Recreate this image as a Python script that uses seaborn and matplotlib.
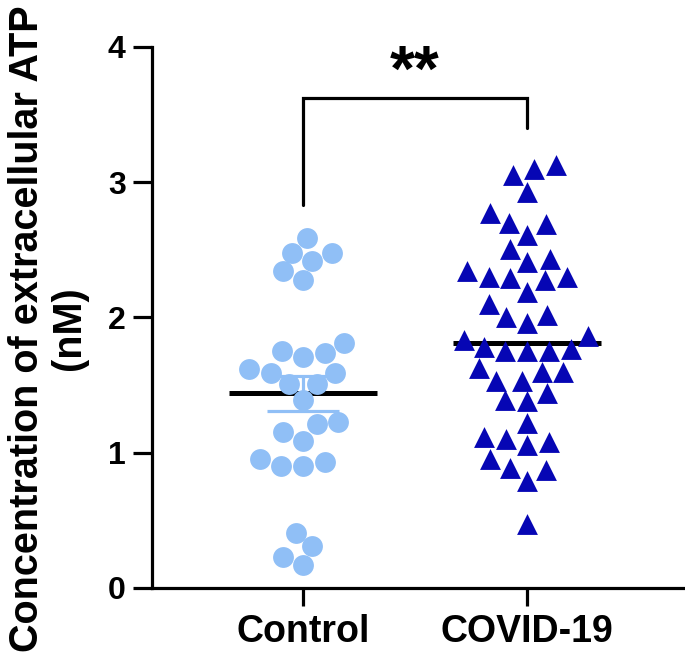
import numpy as np
import pandas as pd
import matplotlib
matplotlib.use('Agg')
import matplotlib.pyplot as plt
import seaborn as sns

# values
groups = ['Control', 'COVID-19']
control_atp = [2.59, 2.48, 2.48, 2.34, 2.42, 2.28, 1.81, 1.71, 1.74, 1.75,
               1.59, 1.62, 1.59, 1.51, 1.51, 1.39, 1.21, 1.23, 1.15, 1.09,
               0.95, 0.90, 0.93, 0.90, 0.41, 0.31, 0.23, 0.17]
covid_atp = [3.13, 3.10, 3.05, 2.93, 2.77, 2.69, 2.70, 2.61, 2.51, 2.41,
             2.43, 2.34, 2.30, 2.28, 2.30, 2.29, 2.19, 2.10, 2.02, 2.00,
             1.96, 1.86, 1.83, 1.78, 1.75, 1.77, 1.75, 1.75, 1.63, 1.60,
             1.60, 1.53, 1.53, 1.44, 1.38, 1.39, 1.22, 1.12, 1.08, 1.06,
             1.10, 0.95, 0.89, 0.87, 0.79, 0.47]
group_mean = [1.44, 1.81]
# the COVID-19 error bar is hidden behind the triangles in the original
group_sem = [0.13, 0.0]
bracket_left, bracket_top, bracket_right = 2.83, 3.62, 3.40
signif = '**'

colors = ['#90BFF6', '#0606B4']
markers = ['o', '^']

df = pd.DataFrame({
    'group': ['Control'] * len(control_atp) + ['COVID-19'] * len(covid_atp),
    'atp': control_atp + covid_atp,
})

sns.set_style('ticks')
plt.rcParams['font.family'] = ['Liberation Sans', 'DejaVu Sans']
plt.rcParams['font.weight'] = 'bold'
plt.rcParams['axes.linewidth'] = 2.3
for k in ['text.color', 'axes.labelcolor', 'axes.edgecolor',
          'xtick.color', 'ytick.color']:
    plt.rcParams[k] = 'black'

fig = plt.figure(figsize=(6.85, 6.58), dpi=100)
ax = fig.add_axes([0.222, 0.1064, 0.778, 0.8222])

# scatter of individual values (drawn on top of the summary lines)
for g, c, m in zip(groups, colors, markers):
    sns.swarmplot(data=df[df['group'] == g], x='group', y='atp', order=groups,
                  color=c, marker=m, size=15, linewidth=0, ax=ax, zorder=5,
                  warn_thresh=1)

# mean +/- SEM
xpos = np.arange(len(groups))
for i in range(len(groups)):
    if group_sem[i] > 0:
        ax.errorbar(xpos[i], group_mean[i], yerr=group_sem[i], color=colors[i],
                    capsize=26, capthick=2.3, elinewidth=2.3, fmt='none',
                    zorder=3)
ax.hlines(group_mean, xpos - 0.33, xpos + 0.33, color='black', lw=3.6, zorder=4)

# significance bracket
ax.plot([0, 0, 1, 1], [bracket_left, bracket_top, bracket_top, bracket_right],
        color='black', lw=2.3, solid_joinstyle='miter')
ax.text(0.5, bracket_top - 0.04, signif, ha='center', va='bottom',
        fontsize=46, fontweight='bold')

ax.set_ylim(0, 4)
ax.set_xlim(-0.674, 1.705)
ax.set_yticks([0, 1, 2, 3, 4])
ax.set_xlabel('')
ax.set_ylabel('Concentration of extracellular ATP\n(nM)', fontsize=28.5,
              fontweight='bold', linespacing=1.15)
ax.yaxis.set_label_coords(-0.12, 0.48)
ax.tick_params(axis='y', length=14, width=2.3, labelsize=23, pad=5)
ax.tick_params(axis='x', length=13, width=2.3, labelsize=27, pad=6)
sns.despine(ax=ax)

fig.savefig('out.png', dpi=100)
